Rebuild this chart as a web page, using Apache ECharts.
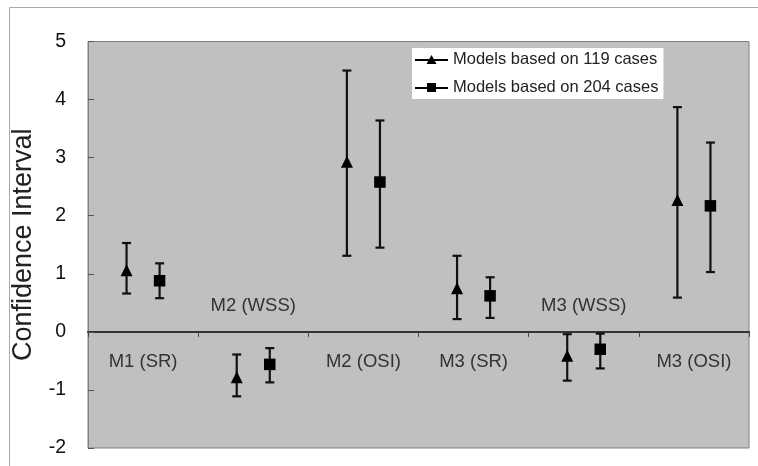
<!DOCTYPE html>
<html>
<head>
<meta charset="utf-8">
<script src="https://cdn.jsdelivr.net/npm/echarts@6/dist/echarts.min.js"></script>
<style>
html, body { margin: 0; padding: 0; background: #fff; }
#main { width: 758px; height: 466px; }
</style>
</head>
<body>
<div id="main"></div>
<script>
var categories = ['M1 (SR)', 'M2 (WSS)', 'M2 (OSI)', 'M3 (SR)', 'M3 (WSS)', 'M3 (OSI)'];
// models based on 119 cases
var est119  = [1.06, -0.78, 2.93, 0.75, -0.41, 2.27];
var low119  = [0.66, -1.11, 1.31, 0.22, -0.84, 0.59];
var high119 = [1.53, -0.39, 4.50, 1.31, -0.04, 3.87];
// models based on 204 cases
var est204  = [0.88, -0.56, 2.58, 0.62, -0.30, 2.17];
var low204  = [0.58, -0.87, 1.45, 0.24, -0.63, 1.03];
var high204 = [1.18, -0.28, 3.64, 0.94, -0.03, 3.26];
var yTicks = [-2, -1, 0, 1, 2, 3, 4, 5];

var FONT = 'Liberation Sans, Arial, sans-serif';
var SHIFT = 0.15; // part of a category width between the two groups

var myChart = echarts.init(document.getElementById('main'));

function errorBars(low, high, shift) {
    return {
        type: 'custom',
        silent: true,
        z: 3,
        renderItem: function (params, api) {
            var band = api.size([1, 0])[0];
            var top = api.coord([api.value(0), api.value(2)]);
            var bot = api.coord([api.value(0), api.value(1)]);
            var x = top[0] + band * shift;
            var hw = 4.5;
            var st = { stroke: '#111', lineWidth: 2.2 };
            return {
                type: 'group',
                children: [
                    { type: 'line', shape: { x1: x, y1: top[1], x2: x, y2: bot[1] }, style: st },
                    { type: 'line', shape: { x1: x - hw, y1: top[1], x2: x + hw, y2: top[1] }, style: st },
                    { type: 'line', shape: { x1: x - hw, y1: bot[1], x2: x + hw, y2: bot[1] }, style: st }
                ]
            };
        },
        data: categories.map(function (c, i) { return [i, low[i], high[i]]; })
    };
}

var option = {
    animation: false,
    backgroundColor: '#fff',
    graphic: [{
        type: 'rect',
        silent: true,
        z: -1,
        shape: { x: 9.5, y: 7.5, width: 780, height: 480 },
        style: { fill: 'none', stroke: '#a8a8a8', lineWidth: 1 }
    }],
    grid: {
        left: 88,
        right: 9,
        top: 41.5,
        bottom: 18,
        show: true,
        backgroundColor: '#c0c0c0',
        borderColor: '#808080',
        borderWidth: 1
    },
    legend: {
        orient: 'vertical',
        left: 412,
        top: 48,
        backgroundColor: '#fff',
        padding: [3, 5, 3, 3],
        itemGap: 11,
        itemWidth: 33,
        itemHeight: 9,
        textStyle: { fontSize: 16.5, fontFamily: FONT, color: '#222', lineHeight: 17 },
        data: [
            { name: 'Models based on 119 cases', icon: 'path://M0 4h33v2H0z M11.5 9L16.5 0L21.5 9z' },
            { name: 'Models based on 204 cases', icon: 'path://M0 4h33v2H0z M12 0h9v9h-9z' }
        ]
    },
    xAxis: {
        type: 'category',
        data: categories,
        boundaryGap: true,
        axisLine: { onZero: true, lineStyle: { color: '#333', width: 2 } },
        axisTick: { show: true, length: 5, lineStyle: { color: '#444', width: 1 } },
        axisLabel: { show: false },
        splitLine: { show: false }
    },
    yAxis: {
        type: 'value',
        min: yTicks[0],
        max: yTicks[yTicks.length - 1],
        interval: 1,
        name: 'Confidence Interval',
        nameLocation: 'middle',
        nameGap: 51,
        nameTextStyle: { fontSize: 27, fontFamily: FONT, color: '#222' },
        axisLine: { show: true, lineStyle: { color: '#808080' } },
        axisTick: { show: true, inside: true, length: 6, lineStyle: { color: '#555' } },
        axisLabel: { fontSize: 19.5, fontFamily: FONT, color: '#111', margin: 22 },
        splitLine: { show: false }
    },
    series: [
        errorBars(low119, high119, -SHIFT),
        errorBars(low204, high204, SHIFT),
        {
            name: 'Models based on 119 cases',
            type: 'scatter',
            symbol: 'triangle',
            symbolSize: 12,
            symbolOffset: [-16.5, 0],
            itemStyle: { color: '#000', opacity: 1 },
            z: 4,
            data: categories.map(function (c, i) { return [i, est119[i]]; })
        },
        {
            name: 'Models based on 204 cases',
            type: 'scatter',
            symbol: 'rect',
            symbolSize: 11.5,
            symbolOffset: [16.5, 0],
            itemStyle: { color: '#000', opacity: 1 },
            z: 4,
            data: categories.map(function (c, i) { return [i, est204[i]]; })
        },
        {
            // category names sit on the side of the zero line away from the marks
            type: 'custom',
            silent: true,
            z: 5,
            renderItem: function (params, api) {
                var p = api.coord([api.value(0), 0]);
                var above = est119[params.dataIndex] < 0;
                return {
                    type: 'text',
                    x: p[0],
                    y: p[1] + (above ? -26 : 30),
                    style: {
                        text: categories[params.dataIndex],
                        fill: '#333',
                        fontSize: 18.5,
                        fontFamily: FONT,
                        align: 'center',
                        verticalAlign: 'middle'
                    }
                };
            },
            data: categories.map(function (c, i) { return [i, 0]; })
        }
    ]
};
myChart.setOption(option);
</script>
</body>
</html>
